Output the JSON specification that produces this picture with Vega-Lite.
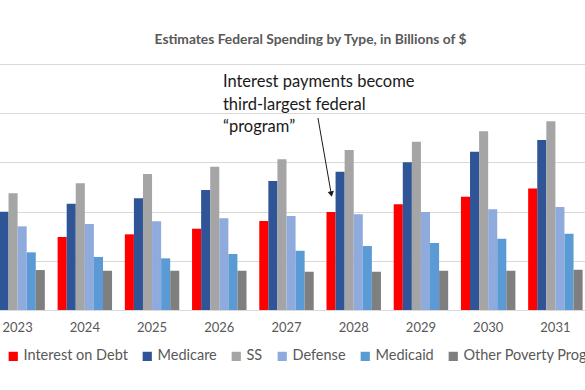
{
  "$schema": "https://vega.github.io/schema/vega-lite/v6.json",
  "width": 605,
  "height": 246,
  "autosize": {"type": "none"},
  "padding": {"left": -16, "top": 64, "right": 0, "bottom": 80},
  "background": "white",
  "title": {
    "text": "Estimates Federal Spending by Type, in Billions of $",
    "font": "Lato",
    "fontSize": 13.8,
    "fontWeight": "bold",
    "color": "#595959",
    "anchor": "middle",
    "dx": 24,
    "offset": 17
  },
  "config": {
    "view": {"stroke": null},
    "font": "Lato"
  },
  "datasets": {
    "spend": [
      {"year": "2023", "type": "Interest on Debt", "value": 691},
      {"year": "2023", "type": "Medicare", "value": 999},
      {"year": "2023", "type": "SS", "value": 1186},
      {"year": "2023", "type": "Defense", "value": 850},
      {"year": "2023", "type": "Medicaid", "value": 586},
      {"year": "2023", "type": "Other Poverty Programs", "value": 406},
      {"year": "2024", "type": "Interest on Debt", "value": 742},
      {"year": "2024", "type": "Medicare", "value": 1080},
      {"year": "2024", "type": "SS", "value": 1287},
      {"year": "2024", "type": "Defense", "value": 874},
      {"year": "2024", "type": "Medicaid", "value": 539},
      {"year": "2024", "type": "Other Poverty Programs", "value": 399},
      {"year": "2025", "type": "Interest on Debt", "value": 769},
      {"year": "2025", "type": "Medicare", "value": 1135},
      {"year": "2025", "type": "SS", "value": 1382},
      {"year": "2025", "type": "Defense", "value": 901},
      {"year": "2025", "type": "Medicaid", "value": 525},
      {"year": "2025", "type": "Other Poverty Programs", "value": 399},
      {"year": "2026", "type": "Interest on Debt", "value": 826},
      {"year": "2026", "type": "Medicare", "value": 1219},
      {"year": "2026", "type": "SS", "value": 1456},
      {"year": "2026", "type": "Defense", "value": 932},
      {"year": "2026", "type": "Medicaid", "value": 569},
      {"year": "2026", "type": "Other Poverty Programs", "value": 399},
      {"year": "2027", "type": "Interest on Debt", "value": 904},
      {"year": "2027", "type": "Medicare", "value": 1311},
      {"year": "2027", "type": "SS", "value": 1531},
      {"year": "2027", "type": "Defense", "value": 955},
      {"year": "2027", "type": "Medicaid", "value": 602},
      {"year": "2027", "type": "Other Poverty Programs", "value": 389},
      {"year": "2028", "type": "Interest on Debt", "value": 996},
      {"year": "2028", "type": "Medicare", "value": 1405},
      {"year": "2028", "type": "SS", "value": 1626},
      {"year": "2028", "type": "Defense", "value": 972},
      {"year": "2028", "type": "Medicaid", "value": 650},
      {"year": "2028", "type": "Other Poverty Programs", "value": 389},
      {"year": "2029", "type": "Interest on Debt", "value": 1074},
      {"year": "2029", "type": "Medicare", "value": 1501},
      {"year": "2029", "type": "SS", "value": 1710},
      {"year": "2029", "type": "Defense", "value": 996},
      {"year": "2029", "type": "Medicaid", "value": 681},
      {"year": "2029", "type": "Other Poverty Programs", "value": 399},
      {"year": "2030", "type": "Interest on Debt", "value": 1151},
      {"year": "2030", "type": "Medicare", "value": 1608},
      {"year": "2030", "type": "SS", "value": 1816},
      {"year": "2030", "type": "Defense", "value": 1023},
      {"year": "2030", "type": "Medicaid", "value": 724},
      {"year": "2030", "type": "Other Poverty Programs", "value": 399},
      {"year": "2031", "type": "Interest on Debt", "value": 1236},
      {"year": "2031", "type": "Medicare", "value": 1727},
      {"year": "2031", "type": "SS", "value": 1917},
      {"year": "2031", "type": "Defense", "value": 1046},
      {"year": "2031", "type": "Medicaid", "value": 775},
      {"year": "2031", "type": "Other Poverty Programs", "value": 409}
    ],
    "note": [
      {"pos": 2026.054, "value": 2266, "label": ["Interest payments become", "third-largest federal", "“program”"]}
    ],
    "arrow": [
      {"pos": 2027.468, "value": 1951, "pos2": 2027.666, "value2": 1178}
    ]
  },
  "layer": [
    {
      "data": {"name": "spend"},
      "mark": {"type": "bar"},
      "encoding": {
        "x": {
          "field": "year",
          "type": "ordinal",
          "scale": {"paddingInner": 0.19, "paddingOuter": 0.095},
          "axis": {
            "title": null,
            "labelAngle": 0,
            "ticks": false,
            "domain": true,
            "domainColor": "#D9D9D9",
            "labelColor": "#595959",
            "labelFontSize": 13,
            "labelFont": "Lato",
            "labelPadding": 11
          }
        },
        "xOffset": {
          "field": "type",
          "type": "nominal",
          "sort": ["Interest on Debt", "Medicare", "SS", "Defense", "Medicaid", "Other Poverty Programs"],
          "scale": {"paddingInner": 0, "paddingOuter": 0}
        },
        "y": {
          "field": "value",
          "type": "quantitative",
          "scale": {"domain": [0, 2500], "nice": false},
          "axis": {
            "title": null,
            "labels": false,
            "ticks": false,
            "domain": false,
            "grid": true,
            "gridColor": "#D9D9D9",
            "values": [0, 500, 1000, 1500, 2000, 2500]
          }
        },
        "color": {
          "field": "type",
          "type": "nominal",
          "scale": {
            "domain": ["Interest on Debt", "Medicare", "SS", "Defense", "Medicaid", "Other Poverty Programs"],
            "range": ["#FF0000", "#2F5597", "#A5A5A5", "#8FAADC", "#5B9BD5", "#7F7F7F"]
          },
          "legend": {
            "title": null,
            "orient": "none",
            "direction": "horizontal",
            "legendX": 22,
            "legendY": 285,
            "symbolType": "square",
            "symbolSize": 85,
            "symbolStrokeWidth": 0,
            "labelFontSize": 14.5,
            "labelFont": "Lato",
            "labelColor": "#595959",
            "labelOffset": 3,
            "columnPadding": 12,
            "labelLimit": 300
          }
        }
      }
    },
    {
      "data": {"name": "note"},
      "mark": {"type": "text", "align": "left", "baseline": "alphabetic", "fontSize": 16.5, "font": "Lato", "color": "#1a1a1a", "lineHeight": 22.5},
      "encoding": {
        "x": {"field": "pos", "type": "quantitative", "scale": {"domain": [2022.5, 2031.5], "nice": false, "zero": false}, "axis": null},
        "y": {"field": "value", "type": "quantitative"},
        "text": {"field": "label"}
      }
    },
    {
      "data": {"name": "arrow"},
      "mark": {"type": "rule", "color": "#1a1a1a", "strokeWidth": 1},
      "encoding": {
        "x": {"field": "pos", "type": "quantitative", "scale": {"domain": [2022.5, 2031.5], "nice": false, "zero": false}, "axis": null},
        "y": {"field": "value", "type": "quantitative"},
        "x2": {"field": "pos2"},
        "y2": {"field": "value2"}
      }
    },
    {
      "data": {"name": "arrow"},
      "mark": {"type": "point", "shape": "triangle-down", "filled": true, "color": "#1a1a1a", "size": 40, "angle": 350, "opacity": 1},
      "encoding": {
        "x": {"field": "pos2", "type": "quantitative", "scale": {"domain": [2022.5, 2031.5], "nice": false, "zero": false}, "axis": null},
        "y": {"field": "value2", "type": "quantitative"}
      }
    }
  ],
  "resolve": {"scale": {"x": "independent"}, "axis": {"x": "independent"}}
}
